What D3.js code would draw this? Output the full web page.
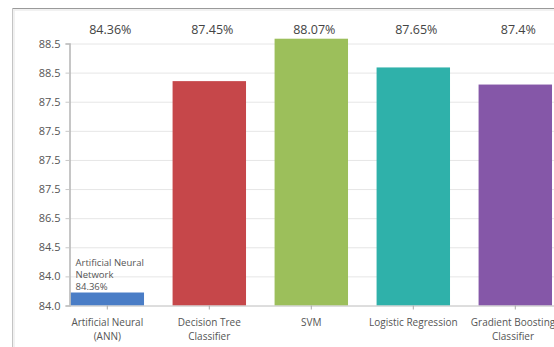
<!DOCTYPE html>
<html>
<head>
<meta charset="utf-8">
<script src="https://cdn.jsdelivr.net/npm/d3@7"></script>
<style>
  html, body { margin: 0; padding: 0; background: #ffffff; }
  svg { display: block; font-family: "Open Sans", "Noto Sans", sans-serif; }
</style>
</head>
<body>
<svg id="chart" width="554" height="347"></svg>
<script>
// Model names, one entry per text line under each bar
const categories = [
  ["Artificial Neural", "(ANN)"],
  ["Decision Tree", "Classifier"],
  ["SVM"],
  ["Logistic Regression"],
  ["Gradient Boosting", "Classifier"]
];
// Accuracy (%) of each model
const accuracy = [84.36, 87.45, 88.07, 87.65, 87.4];
// Labels printed along the y axis, bottom to top
const yTickLabels = ["84.0", "84.0", "84.5", "86.5", "87.5", "87.5", "87.5", "87.5", "88.5", "88.5"];
// Note written above the first bar
const annotationLines = ["Artificial Neural", "Network", "84.36%"];

const barColors = ["#4a7dc6", "#c6474a", "#9cbf5b", "#2fb1aa", "#8557a8"];

const W = 554, H = 347;
const plot = { left: 69.5, right: 554, top: 43.5, bottom: 305.5 };

const svg = d3.select("#chart");

// panel frame
svg.append("line").attr("x1", 12).attr("x2", W).attr("y1", 8.5).attr("y2", 8.5)
  .attr("stroke", "#9a9a9a").attr("stroke-width", 1);
svg.append("line").attr("x1", 13).attr("x2", W).attr("y1", 10).attr("y2", 10)
  .attr("stroke", "#ececec").attr("stroke-width", 1.5);
svg.append("line").attr("x1", 12.5).attr("x2", 12.5).attr("y1", 8).attr("y2", H)
  .attr("stroke", "#c4c4c4").attr("stroke-width", 1);
svg.append("line").attr("x1", 14).attr("x2", 14).attr("y1", 10).attr("y2", H)
  .attr("stroke", "#ececec").attr("stroke-width", 1.5);

const idx = d3.range(categories.length);

const x = d3.scaleBand()
  .domain(idx)
  .range([56.3, 566.3])
  .paddingInner(0.28)
  .paddingOuter(0.14);

const y = d3.scaleLinear()
  .domain([84.17, 88.0])
  .range([plot.bottom, plot.top]);

const [lo, hi] = y.domain();
const tickVals = yTickLabels.map((_, i) => lo + i * (hi - lo) / (yTickLabels.length - 1));

// horizontal grid
const grid = svg.append("g")
  .attr("transform", `translate(${plot.left},0)`)
  .call(d3.axisLeft(y).tickValues(tickVals).tickSize(-(plot.right - plot.left)).tickFormat(""));
grid.select(".domain").remove();
grid.selectAll("line").attr("stroke", "#e6e6e6").attr("stroke-width", 1);

// bars
svg.append("g").selectAll("rect")
  .data(accuracy)
  .join("rect")
  .attr("x", (d, i) => x(i))
  .attr("width", x.bandwidth())
  .attr("y", d => y(d))
  .attr("height", d => y(lo) - y(d))
  .attr("fill", (d, i) => barColors[i]);

// y axis
const yAxis = svg.append("g")
  .attr("transform", `translate(${plot.left},0)`)
  .call(d3.axisLeft(y).tickValues(tickVals).tickSize(4).tickPadding(5)
    .tickFormat((d, i) => yTickLabels[i]));
yAxis.select(".domain").attr("stroke", "#b4b4b4").attr("stroke-width", 1.5);
yAxis.selectAll(".tick line").attr("stroke", "#c8c8c8");
yAxis.selectAll("text").attr("fill", "#555").attr("font-size", 11)
  .attr("font-family", "'Open Sans', sans-serif");

// x axis
const xAxis = svg.append("g")
  .attr("transform", `translate(0,${plot.bottom})`)
  .call(d3.axisBottom(x).tickSize(4).tickFormat(""));
xAxis.select(".domain").attr("stroke", "#c8c8c8")
  .attr("d", `M${plot.left},0.5H${plot.right}`);
xAxis.selectAll(".tick line").attr("stroke", "#aaa");

// category labels
const catG = svg.append("g")
  .attr("font-size", 10)
  .attr("fill", "#555")
  .attr("text-anchor", "middle");
categories.forEach((lines, i) => {
  const cx = Math.min(x(i) + x.bandwidth() / 2, W - 41);
  const t = catG.append("text")
    .attr("x", cx)
    .attr("y", 326);
  lines.forEach((s, k) => {
    t.append("tspan")
      .attr("x", cx)
      .attr("dy", k === 0 ? 0 : 14)
      .text(s);
  });
});

// value labels across the top
svg.append("g").selectAll("text")
  .data(accuracy)
  .join("text")
  .attr("x", (d, i) => x(i) + x.bandwidth() / 2 + 3)
  .attr("y", 34)
  .attr("text-anchor", "middle")
  .attr("font-size", 12.5)
  .attr("fill", "#444")
  .text(d => `${d}%`);

// note above the first bar
const note = svg.append("text")
  .attr("x", x(0) + 5)
  .attr("y", 266)
  .attr("font-size", 9.5)
  .attr("fill", "#555");
annotationLines.forEach((s, k) => {
  note.append("tspan")
    .attr("x", x(0) + 5)
    .attr("dy", k === 0 ? 0 : 12)
    .text(s);
});
</script>
</body>
</html>
